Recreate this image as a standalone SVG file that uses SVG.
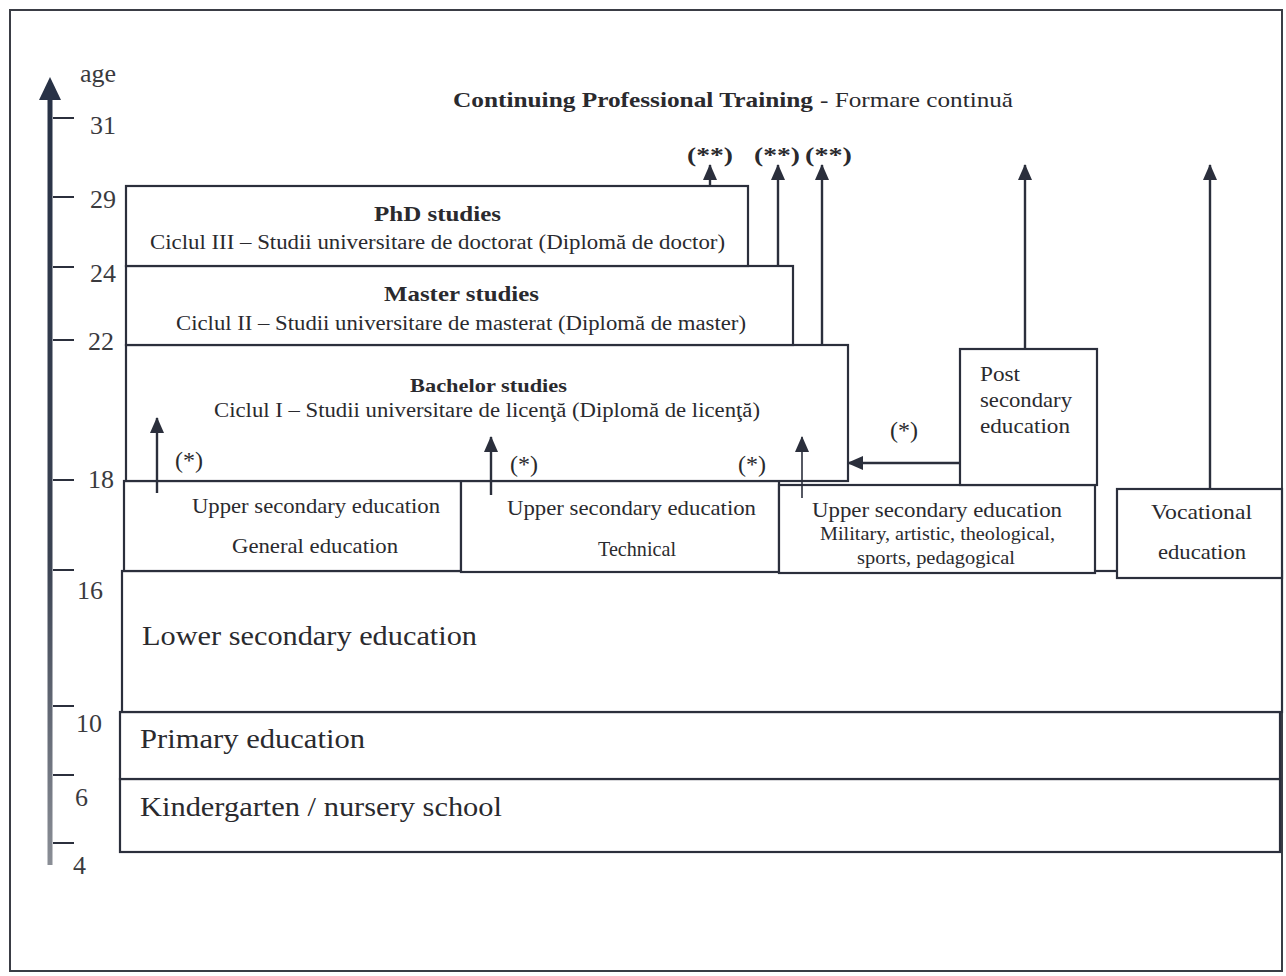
<svg xmlns="http://www.w3.org/2000/svg" width="1286" height="976" viewBox="0 0 1286 976">
<defs>
<style>
.box{fill:#fff;stroke:#2b2f3c;stroke-width:2.2}
.t{font-family:"Liberation Serif","Times New Roman",serif;fill:#2a2a2e}
.b{font-weight:bold}
.ax{font-family:"Liberation Serif","Times New Roman",serif;fill:#3a3a3e;font-size:26px}
.tick{stroke:#2b2f3c;stroke-width:2}
.con{stroke:#2b2f3c;stroke-width:2.4;fill:none}
</style>
<marker id="ah" markerUnits="userSpaceOnUse" markerWidth="16" markerHeight="14" viewBox="0 0 16 14" refX="15" refY="7" orient="auto">
<path d="M0,0 L16,7 L0,14 z" fill="#2b2f3c"/>
</marker>
<linearGradient id="axg" x1="0" y1="0" x2="0" y2="1">
<stop offset="0" stop-color="#283246"/>
<stop offset="0.6" stop-color="#3a4252"/>
<stop offset="1" stop-color="#8a8e96"/>
</linearGradient>
</defs>
<rect x="0" y="0" width="1286" height="976" fill="#fff"/>
<rect x="10" y="10" width="1272" height="961" fill="none" stroke="#3a3d45" stroke-width="2"/>

<g id="axis">
<rect x="47.5" y="95" width="5" height="770" fill="url(#axg)"/>
<path d="M39,100 L50,77 L61,100 z" fill="#283246"/>
<text class="ax" x="80" y="82">age</text>
<line class="tick" x1="53" y1="118" x2="74" y2="118"/><text class="ax" x="90" y="134">31</text>
<line class="tick" x1="53" y1="197" x2="74" y2="197"/><text class="ax" x="90" y="208">29</text>
<line class="tick" x1="53" y1="267" x2="74" y2="267"/><text class="ax" x="90" y="282">24</text>
<line class="tick" x1="53" y1="340" x2="74" y2="340"/><text class="ax" x="88" y="350">22</text>
<line class="tick" x1="53" y1="480" x2="74" y2="480"/><text class="ax" x="88" y="488">18</text>
<line class="tick" x1="53" y1="570" x2="74" y2="570"/><text class="ax" x="77" y="599">16</text>
<line class="tick" x1="53" y1="706" x2="74" y2="706"/><text class="ax" x="76" y="732">10</text>
<line class="tick" x1="53" y1="775" x2="74" y2="775"/><text class="ax" x="75" y="806">6</text>
<line class="tick" x1="53" y1="843" x2="74" y2="843"/><text class="ax" x="73" y="874">4</text>
</g>

<g id="title">
<text class="t b" x="453" y="107" style="font-size:22px" textLength="360" lengthAdjust="spacingAndGlyphs">Continuing Professional Training</text>
<text class="t" x="820" y="107" style="font-size:22px" textLength="193" lengthAdjust="spacingAndGlyphs">- Formare continuă</text>
</g>

<g id="kindergarten">
<rect class="box" x="120" y="779" width="1160" height="73"/>
<text class="t" x="140" y="816" style="font-size:27px" textLength="362" lengthAdjust="spacingAndGlyphs">Kindergarten / nursery school</text>
</g>
<g id="primary">
<rect class="box" x="120" y="712" width="1160" height="67"/>
<text class="t" x="140" y="748" style="font-size:27px" textLength="225" lengthAdjust="spacingAndGlyphs">Primary education</text>
</g>
<g id="lower-secondary">
<rect class="box" x="122" y="571" width="1160" height="141"/>
<text class="t" x="142" y="645" style="font-size:27px" textLength="335" lengthAdjust="spacingAndGlyphs">Lower secondary education</text>
</g>

<g id="upper-general">
<rect class="box" x="124" y="481" width="337" height="90"/>
<text class="t" x="192" y="513" style="font-size:21px" textLength="248" lengthAdjust="spacingAndGlyphs">Upper secondary education</text>
<text class="t" x="232" y="553" style="font-size:21px" textLength="166" lengthAdjust="spacingAndGlyphs">General education</text>
</g>
<g id="upper-technical">
<rect class="box" x="461" y="481" width="318" height="91"/>
<text class="t" x="507" y="515" style="font-size:21px" textLength="249" lengthAdjust="spacingAndGlyphs">Upper secondary education</text>
<text class="t" x="598" y="556" style="font-size:21px" textLength="78" lengthAdjust="spacingAndGlyphs">Technical</text>
</g>
<g id="upper-military">
<rect class="box" x="779" y="485" width="316" height="88"/>
<text class="t" x="812" y="517" style="font-size:21px" textLength="250" lengthAdjust="spacingAndGlyphs">Upper secondary education</text>
<text class="t" x="820" y="540" style="font-size:18px" textLength="235" lengthAdjust="spacingAndGlyphs">Military, artistic, theological,</text>
<text class="t" x="857" y="564" style="font-size:18px" textLength="158" lengthAdjust="spacingAndGlyphs">sports, pedagogical</text>
</g>
<g id="vocational">
<rect class="box" x="1117" y="489" width="165" height="89"/>
<text class="t" x="1151" y="519" style="font-size:22px" textLength="101" lengthAdjust="spacingAndGlyphs">Vocational</text>
<text class="t" x="1158" y="559" style="font-size:22px" textLength="88" lengthAdjust="spacingAndGlyphs">education</text>
</g>
<g id="post-secondary">
<rect class="box" x="960" y="349" width="137" height="136"/>
<text class="t" x="980" y="381" style="font-size:21px" textLength="40" lengthAdjust="spacingAndGlyphs">Post</text>
<text class="t" x="980" y="407" style="font-size:21px" textLength="92" lengthAdjust="spacingAndGlyphs">secondary</text>
<text class="t" x="980" y="433" style="font-size:21px" textLength="90" lengthAdjust="spacingAndGlyphs">education</text>
</g>

<g id="bachelor">
<rect class="box" x="126" y="345" width="722" height="136"/>
<text class="t b" x="410" y="392" style="font-size:19px" textLength="157" lengthAdjust="spacingAndGlyphs">Bachelor studies</text>
<text class="t" x="214" y="417" style="font-size:20px" textLength="546" lengthAdjust="spacingAndGlyphs">Ciclul I – Studii universitare de licenţă (Diplomă de licenţă)</text>
</g>
<g id="master">
<rect class="box" x="126" y="266" width="667" height="79"/>
<text class="t b" x="384" y="301" style="font-size:22px" textLength="155" lengthAdjust="spacingAndGlyphs">Master studies</text>
<text class="t" x="176" y="330" style="font-size:20px" textLength="570" lengthAdjust="spacingAndGlyphs">Ciclul II – Studii universitare de masterat (Diplomă de master)</text>
</g>
<g id="phd">
<rect class="box" x="126" y="186" width="622" height="80"/>
<text class="t b" x="374" y="221" style="font-size:22px" textLength="127" lengthAdjust="spacingAndGlyphs">PhD studies</text>
<text class="t" x="150" y="249" style="font-size:20px" textLength="575" lengthAdjust="spacingAndGlyphs">Ciclul III – Studii universitare de doctorat (Diplomă de doctor)</text>
</g>

<g id="connectors">
<line class="con" x1="710" y1="187" x2="710" y2="165" marker-end="url(#ah)"/>
<line class="con" x1="778" y1="267" x2="778" y2="165" marker-end="url(#ah)"/>
<line class="con" x1="822" y1="346" x2="822" y2="165" marker-end="url(#ah)"/>
<line class="con" x1="1025" y1="349" x2="1025" y2="165" marker-end="url(#ah)"/>
<line class="con" x1="1210" y1="489" x2="1210" y2="165" marker-end="url(#ah)"/>
<line class="con" x1="157" y1="493" x2="157" y2="418" marker-end="url(#ah)"/>
<line class="con" x1="491" y1="495" x2="491" y2="437" marker-end="url(#ah)"/>
<line class="con" style="stroke-width:1.6px" x1="802" y1="498" x2="802" y2="437" marker-end="url(#ah)"/>
<line class="con" x1="960" y1="463" x2="848" y2="463" marker-end="url(#ah)"/>
</g>

<g id="labels">
<text class="t b" x="687" y="162" style="font-size:20px" textLength="46" lengthAdjust="spacingAndGlyphs">(**)</text>
<text class="t b" x="754" y="162" style="font-size:20px" textLength="46" lengthAdjust="spacingAndGlyphs">(**)</text>
<text class="t b" x="805" y="162" style="font-size:20px" textLength="47" lengthAdjust="spacingAndGlyphs">(**)</text>
<text class="t" x="175" y="468" style="font-size:24px">(*)</text>
<text class="t" x="510" y="472" style="font-size:24px">(*)</text>
<text class="t" x="738" y="472" style="font-size:24px">(*)</text>
<text class="t" x="890" y="438" style="font-size:24px">(*)</text>
</g>
</svg>
